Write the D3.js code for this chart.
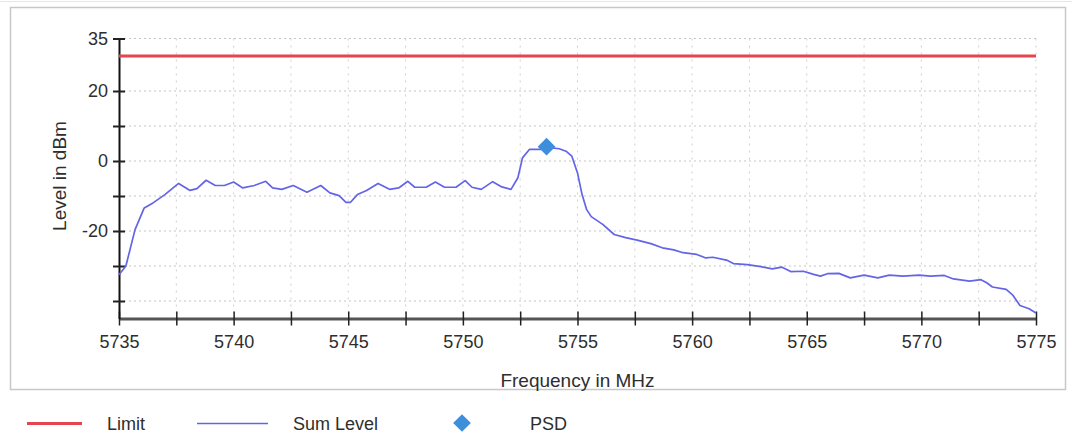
<!DOCTYPE html>
<html>
<head>
<meta charset="utf-8">
<script src="https://cdn.jsdelivr.net/npm/d3@7"></script>
<style>
  html, body { margin: 0; padding: 0; background: #fff; }
  svg { display: block; font-family: "Liberation Sans", Arial, sans-serif; }
</style>
</head>
<body>
<svg id="chart" width="1072" height="434"></svg>
<script>
// ---- data ----
const frequency = [5735.0, 5735.3, 5735.7, 5736.1, 5736.5, 5737.0, 5737.6, 5738.1, 5738.4, 5738.8,
  5739.2, 5739.6, 5740.0, 5740.4, 5740.9, 5741.4, 5741.7, 5742.1, 5742.6, 5743.2,
  5743.8, 5744.2, 5744.6, 5744.9, 5745.1, 5745.4, 5745.8, 5746.3, 5746.8, 5747.2,
  5747.6, 5747.9, 5748.4, 5748.8, 5749.2, 5749.7, 5750.1, 5750.4, 5750.8, 5751.3,
  5751.7, 5752.1, 5752.4, 5752.6, 5752.9, 5753.4, 5753.7, 5754.2, 5754.5, 5754.75,
  5755.0, 5755.2, 5755.4, 5755.6, 5756.1, 5756.6, 5757.1, 5757.6, 5758.2, 5758.7,
  5759.2, 5759.6, 5760.2, 5760.6, 5760.9, 5761.5, 5761.8, 5762.4, 5763.0, 5763.5,
  5763.9, 5764.3, 5764.85, 5765.3, 5765.6, 5765.9, 5766.4, 5766.9, 5767.5, 5768.1,
  5768.6, 5769.2, 5769.9, 5770.4, 5771.0, 5771.4, 5772.1, 5772.6, 5772.85, 5773.1,
  5773.7, 5774.0, 5774.3, 5774.7, 5775.0];
const sumLevel = [-32.5, -30.0, -19.6, -13.4, -11.9, -9.6, -6.4, -8.4, -7.9, -5.5,
  -7.0, -7.0, -6.0, -7.7, -7.0, -5.8, -7.7, -8.1, -7.0, -8.9,
  -7.0, -9.1, -9.9, -11.8, -11.8, -9.6, -8.4, -6.4, -8.1, -7.7,
  -5.8, -7.5, -7.5, -6.0, -7.5, -7.5, -5.6, -7.5, -8.1, -5.9,
  -7.4, -8.1, -4.8, 0.9, 3.3, 3.3, 3.9, 3.5, 2.8, 1.4,
  -3.4, -9.6, -13.9, -15.9, -18.1, -21.0, -21.9, -22.6, -23.6, -24.8,
  -25.4, -26.2, -26.7, -27.7, -27.5, -28.3, -29.3, -29.6, -30.2, -30.8,
  -30.3, -31.6, -31.5, -32.4, -32.9, -32.2, -32.1, -33.4, -32.6, -33.4,
  -32.6, -32.9, -32.6, -32.9, -32.7, -33.7, -34.3, -33.9, -34.8, -36.0,
  -36.7, -38.4, -41.3, -42.2, -43.4];
const limitLevel = 30;
const psdFrequency = [5753.65];
const psdLevel = [4.1];
const xDomain = [5735, 5775];
const yDomain = [-45, 35];
const xTicks = [5735, 5737.5, 5740, 5742.5, 5745, 5747.5, 5750, 5752.5, 5755, 5757.5,
  5760, 5762.5, 5765, 5767.5, 5770, 5772.5, 5775];
const xTickLabels = [5735, 5740, 5745, 5750, 5755, 5760, 5765, 5770, 5775];
const yTicks = [35, 20, 10, 0, -10, -20, -30, -40];
const yTickLabels = [35, 20, 0, -20];
const legendNames = ["Limit", "Sum Level", "PSD"];

// ---- layout ----
const svg = d3.select("#chart");
const plot = { left: 119, right: 1036, top: 38.5, bottom: 318.5 };
const x = d3.scaleLinear().domain(xDomain).range([plot.left, plot.right]);
const y = d3.scaleLinear().domain(yDomain).range([plot.bottom, plot.top]);
const colors = { limit: "#e5454f", sum: "#6464e6", psd: "#3d8fdc" };

// outer frame
svg.append("line").attr("x1", 0).attr("x2", 1072).attr("y1", 1.5).attr("y2", 1.5)
  .attr("stroke", "#e6e6e6").attr("stroke-width", 1);
svg.append("rect").attr("x", 10.5).attr("y", 7.5).attr("width", 1055).attr("height", 382)
  .attr("fill", "none").attr("stroke", "#c8c8c8").attr("stroke-width", 1.5);

// grid
const grid = svg.append("g");
grid.selectAll("line.h").data(yTicks).join("line").attr("class", "h")
  .attr("x1", plot.left).attr("x2", plot.right)
  .attr("y1", d => y(d)).attr("y2", d => y(d))
  .attr("stroke", "#c4c4c4").attr("stroke-width", 1).attr("stroke-dasharray", "2,3");
grid.selectAll("line.v").data(xTicks.slice(1)).join("line").attr("class", "v")
  .attr("x1", d => x(d)).attr("x2", d => x(d))
  .attr("y1", plot.top).attr("y2", plot.bottom)
  .attr("stroke", "#cfcfcf").attr("stroke-width", 1).attr("stroke-dasharray", "2,5");

// axes
const xAxis = d3.axisBottom(x).tickValues(xTicks).tickSizeInner(0).tickSizeOuter(0)
  .tickPadding(17)
  .tickFormat(d => xTickLabels.includes(d) ? d3.format("d")(d) : "");
const gx = svg.append("g").attr("transform", `translate(0,${plot.bottom})`).call(xAxis);
gx.select(".domain").attr("stroke", "#555").attr("stroke-width", 3);
gx.selectAll(".tick").append("line").attr("y1", -7).attr("y2", 7)
  .attr("stroke", "#222").attr("stroke-width", 1.5);
gx.selectAll("text").attr("font-size", 18).attr("fill", "#2e2e2e")
  .attr("font-family", "Liberation Sans, Arial, sans-serif");

const yAxis = d3.axisLeft(y).tickValues(yTicks).tickSizeInner(0).tickSizeOuter(0)
  .tickPadding(11)
  .tickFormat(d => yTickLabels.includes(d) ? String(d) : "");
const gy = svg.append("g").attr("transform", `translate(${plot.left},0)`).call(yAxis);
gy.select(".domain").attr("stroke", "#111").attr("stroke-width", 2);
gy.selectAll(".tick").append("line").attr("x1", -6).attr("x2", 6)
  .attr("stroke", "#222").attr("stroke-width", 2);
gy.selectAll("text").attr("font-size", 18).attr("fill", "#2e2e2e")
  .attr("font-family", "Liberation Sans, Arial, sans-serif");

// limit line
svg.append("line")
  .attr("x1", x(xDomain[0])).attr("x2", x(xDomain[1]))
  .attr("y1", y(limitLevel)).attr("y2", y(limitLevel))
  .attr("stroke", colors.limit).attr("stroke-width", 3);

// sum level line
const pts = frequency.map((f, i) => [f, sumLevel[i]]);
svg.append("path").datum(pts)
  .attr("d", d3.line().x(d => x(d[0])).y(d => y(d[1])))
  .attr("fill", "none").attr("stroke", colors.sum).attr("stroke-width", 1.7)
  .attr("stroke-linejoin", "round");

// PSD marker
const diamond = d3.symbol().type(d3.symbolDiamond2).size(200);
svg.selectAll("path.psd").data(psdFrequency).join("path").attr("class", "psd")
  .attr("d", diamond)
  .attr("transform", (d, i) => `translate(${x(d)},${y(psdLevel[i])})`)
  .attr("fill", colors.psd);

// axis titles
svg.append("text").attr("x", (plot.left + plot.right) / 2 + 0).attr("y", 387)
  .attr("text-anchor", "middle").attr("font-size", 19).attr("fill", "#2e2e2e")
  .text("Frequency in MHz");
svg.append("text").attr("transform", "translate(66,176) rotate(-90)")
  .attr("text-anchor", "middle").attr("font-size", 19).attr("fill", "#2e2e2e")
  .text("Level in dBm");

// legend
const lg = svg.append("g");
lg.append("line").attr("x1", 27).attr("x2", 82).attr("y1", 423.5).attr("y2", 423.5)
  .attr("stroke", colors.limit).attr("stroke-width", 3);
lg.append("text").attr("x", 107).attr("y", 430).attr("font-size", 18).attr("fill", "#2e2e2e").text(legendNames[0]);
lg.append("line").attr("x1", 197).attr("x2", 268).attr("y1", 423.5).attr("y2", 423.5)
  .attr("stroke", colors.sum).attr("stroke-width", 1.7);
lg.append("text").attr("x", 293).attr("y", 430).attr("font-size", 18).attr("fill", "#2e2e2e").text(legendNames[1]);
lg.append("path").attr("d", diamond).attr("transform", "translate(462,423)").attr("fill", colors.psd);
lg.append("text").attr("x", 530).attr("y", 430).attr("font-size", 18).attr("fill", "#2e2e2e").text(legendNames[2]);
</script>
</body>
</html>
